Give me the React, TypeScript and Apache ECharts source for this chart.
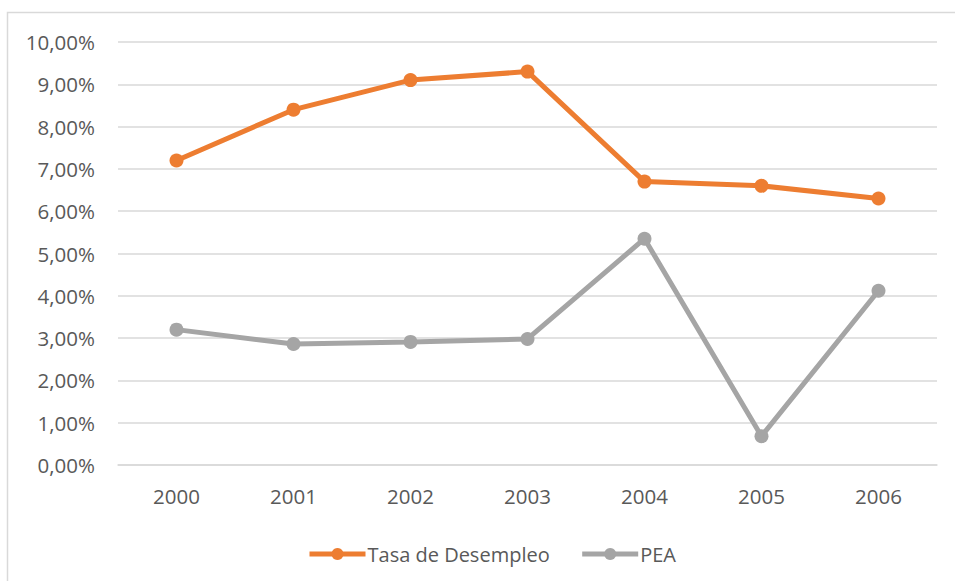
import React, { useEffect, useRef } from "react";
import * as echarts from "echarts";

const categories = ["2000", "2001", "2002", "2003", "2004", "2005", "2006"];
const desempleo = [7.2, 8.4, 9.1, 9.3, 6.7, 6.6, 6.3];
const pea = [3.2, 2.86, 2.91, 2.98, 5.35, 0.68, 4.12];
const seriesNames = ["Tasa de Desempleo", "PEA"];

export default function App() {
  const ref = useRef<HTMLDivElement>(null);
  useEffect(() => {
    if (!ref.current) return;
    const chart = echarts.init(ref.current, undefined, { renderer: "svg" });
    const font = "'Open Sans', sans-serif";
    chart.setOption({
      animation: false,
      backgroundColor: "#ffffff",
      textStyle: { fontFamily: font },
      graphic: [
        {
          type: "rect",
          shape: { x: 7.5, y: 12.5, width: 1000, height: 700 },
          style: { fill: "none", stroke: "#D9D9D9", lineWidth: 1.5 },
          silent: true,
        },
      ],
      grid: { left: 118, right: 18, top: 42, bottom: 116 },
      legend: {
        left: 302,
        top: 539,
        itemWidth: 56,
        itemHeight: 15,
        itemGap: 30,
        lineStyle: { width: 5 },
        textStyle: { color: "#595959", fontSize: 20, fontFamily: font, padding: [0, 0, 0, -3] },
        data: seriesNames,
      },
      xAxis: {
        type: "category",
        data: categories,
        boundaryGap: true,
        axisLine: { lineStyle: { color: "#D9D9D9", width: 1.5 } },
        axisTick: { show: false },
        axisLabel: { color: "#595959", fontSize: 20.5, margin: 20, fontFamily: font },
      },
      yAxis: {
        type: "value",
        min: 0,
        max: 10,
        interval: 1,
        axisLine: { show: false },
        axisTick: { show: false },
        splitLine: { lineStyle: { color: "#D9D9D9", width: 1.5 } },
        axisLabel: {
          color: "#595959",
          fontSize: 20.5,
          margin: 23,
          fontFamily: font,
          formatter: (v: number) => v.toFixed(2).replace(".", ",") + "%",
        },
      },
      series: [
        {
          name: seriesNames[0],
          type: "line",
          data: desempleo,
          symbol: "circle",
          symbolSize: 14,
          lineStyle: { width: 5, color: "#ED7D31" },
          itemStyle: { color: "#ED7D31" },
        },
        {
          name: seriesNames[1],
          type: "line",
          data: pea,
          symbol: "circle",
          symbolSize: 14,
          lineStyle: { width: 5, color: "#A5A5A5" },
          itemStyle: { color: "#A5A5A5" },
        },
      ],
    });
    return () => chart.dispose();
  }, []);
  return (
    <div
      ref={ref}
      style={{ position: "fixed", left: 0, top: 0, width: 955, height: 581 }}
    />
  );
}
